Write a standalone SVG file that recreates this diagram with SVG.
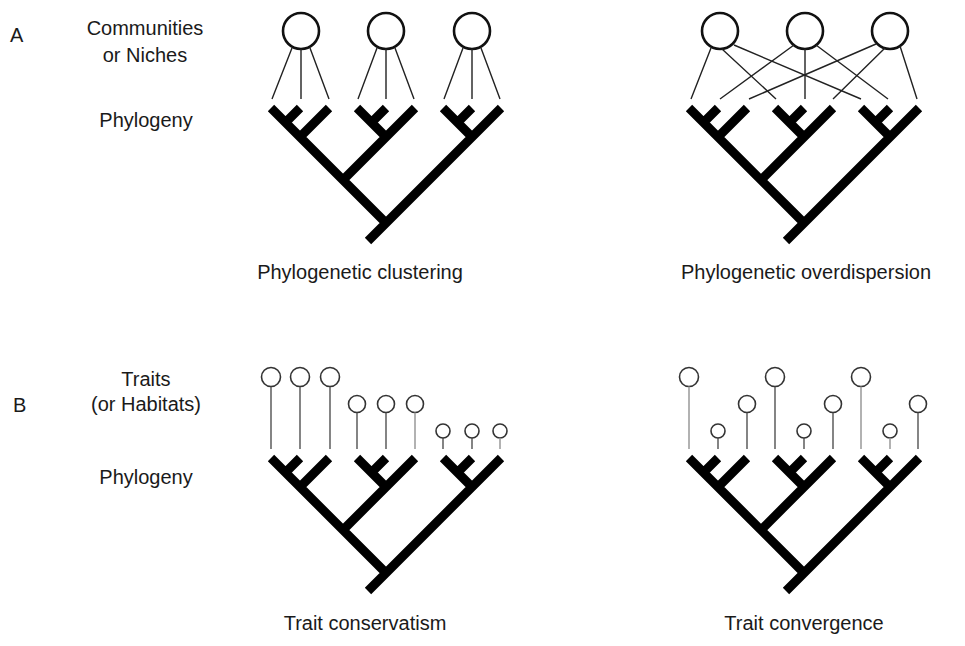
<svg xmlns="http://www.w3.org/2000/svg" width="965" height="646" viewBox="0 0 965 646">
<style>
  text { font-family: "Liberation Sans", Arial, sans-serif; font-size: 20px; fill: #1a1a1a; }
  .mid { text-anchor: middle; }
  .tree { fill: none; stroke: #000; stroke-width: 9; stroke-linecap: butt; }
  .comm { fill: #fff; stroke: #111; stroke-width: 2.6; }
  .link { fill: none; stroke: #222; stroke-width: 1.4; }
  .trait { fill: #fff; stroke: #333; stroke-width: 1.6; }
  .tl { fill: none; stroke: #444; stroke-width: 1.3; }
  .tlg { fill: none; stroke: #999; stroke-width: 1.5; }
</style>
<defs>
  <g id="phylo">
    <path class="tree" d="M271,108 L386,223 M501,108 L368,241 M300,108 L285.5,122.5 M329,108 L300,137 M357,108 L386,137 M386,108 L371.5,122.5 M415,108 L343,180 M443,108 L472,137 M472,108 L457.5,122.5"/>
  </g>
</defs>

<rect width="965" height="646" fill="#fff"/>

<!-- Labels -->
<g id="labels">
  <text x="10" y="42">A</text>
  <text class="mid" x="145" y="35">Communities</text>
  <text class="mid" x="145" y="62">or Niches</text>
  <text class="mid" x="146" y="127">Phylogeny</text>
  <text class="mid" x="360" y="279">Phylogenetic clustering</text>
  <text class="mid" x="806" y="279">Phylogenetic overdispersion</text>
  <text x="13" y="412">B</text>
  <text class="mid" x="146" y="386">Traits</text>
  <text class="mid" x="146" y="411">(or Habitats)</text>
  <text class="mid" x="146" y="484">Phylogeny</text>
  <text class="mid" x="365" y="630">Trait conservatism</text>
  <text class="mid" x="804" y="630">Trait convergence</text>
</g>

<!-- Trees -->
<g id="tree-clustering"><use href="#phylo"/></g>
<g id="tree-overdispersion" transform="translate(418,0)"><use href="#phylo"/></g>
<g id="tree-conservatism" transform="translate(0,350)"><use href="#phylo"/></g>
<g id="tree-convergence" transform="translate(418,350)"><use href="#phylo"/></g>

<!-- Communities (A, left) -->
<g id="comm-left-1"><circle class="comm" cx="301" cy="31" r="18"/></g>
<g id="comm-left-2"><circle class="comm" cx="386" cy="31" r="18"/></g>
<g id="comm-left-3"><circle class="comm" cx="472" cy="31" r="18"/></g>
<!-- Communities (A, right) -->
<g id="comm-right-1"><circle class="comm" cx="720" cy="31" r="18"/></g>
<g id="comm-right-2"><circle class="comm" cx="805" cy="31" r="18"/></g>
<g id="comm-right-3"><circle class="comm" cx="890" cy="31" r="18"/></g>

<!-- Traits (B, left) -->
<g id="traits-left">
  <circle class="trait" cx="271" cy="377" r="9.5"/>
  <circle class="trait" cx="300" cy="377" r="9.5"/>
  <circle class="trait" cx="330" cy="377" r="9.5"/>
  <circle class="trait" cx="357" cy="404" r="8.5"/>
  <circle class="trait" cx="386" cy="404" r="8.5"/>
  <circle class="trait" cx="415" cy="404" r="8.5"/>
  <circle class="trait" cx="443" cy="431" r="7"/>
  <circle class="trait" cx="472" cy="431" r="7"/>
  <circle class="trait" cx="500" cy="431" r="7"/>
</g>
<!-- Traits (B, right) -->
<g id="traits-right">
  <circle class="trait" cx="689" cy="377" r="9.5"/>
  <circle class="trait" cx="718" cy="431" r="7"/>
  <circle class="trait" cx="747" cy="404" r="8.5"/>
  <circle class="trait" cx="775" cy="377" r="9.5"/>
  <circle class="trait" cx="804" cy="431" r="7"/>
  <circle class="trait" cx="833" cy="404" r="8.5"/>
  <circle class="trait" cx="861" cy="377" r="9.5"/>
  <circle class="trait" cx="890" cy="431" r="7"/>
  <circle class="trait" cx="918" cy="404" r="8.5"/>
</g>

<!-- Connectors -->
<g id="connectors">
  <!-- A left: each community linked to its own clade -->
  <path class="link" d="M292,48 L272,99 M301,49 L301,99 M310,48 L329,99"/>
  <path class="link" d="M377,48 L358,99 M386,49 L386,99 M395,48 L414,99"/>
  <path class="link" d="M463,48 L444,99 M472,49 L472,99 M481,48 L500,99"/>
  <!-- A right: each community linked to one species in every clade -->
  <path class="link" d="M711,48 L691,99 M722,49 L776,99 M734,45 L861,99"/>
  <path class="link" d="M794,45 L720,99 M805,49 L805,99 M816,45 L888,99"/>
  <path class="link" d="M876,44 L749,99 M885,48 L833,99 M900,46 L917,99"/>
  <!-- B left stems -->
  <path class="tl" d="M271,386.5 V449 M300,386.5 V449 M330,386.5 V449 M357,412.5 V449 M386,412.5 V449"/>
  <path class="tlg" d="M415,412.5 V449"/>
  <path class="tl" d="M443,438 V449 M472,438 V449"/>
  <path class="tlg" d="M500,438 V449"/>
  <!-- B right stems -->
  <path class="tlg" d="M689,386.5 V449"/>
  <path class="tl" d="M718,438 V449 M747,412.5 V449 M775,386.5 V449 M804,438 V449 M833,412.5 V449"/>
  <path class="tlg" d="M861,386.5 V449 M890,438 V449"/>
  <path class="tl" d="M918,412.5 V449"/>
</g>
</svg>
